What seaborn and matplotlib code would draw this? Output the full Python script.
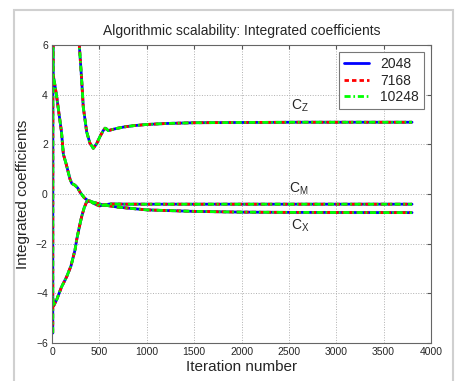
import matplotlib
matplotlib.use('Agg')
import matplotlib.pyplot as plt
import matplotlib.patches as mpatches
import seaborn as sns

# data (all three runs lie on top of each other)
runs = ['2048', '7168', '10248']
run_colors = ['#0000ff', '#ff0000', '#00ff00']
run_styles = ['-', (0, (1.6, 1.1)), (0, (2.2, 1.0, 0.6, 1.0))]

cz_iter = [8, 14, 100, 200, 288, 313, 330, 366, 400, 436, 470, 506, 540, 560, 575,
           595, 620, 682, 760, 858, 1000, 1210, 1500, 2000, 2600, 3800]
cz_val = [-5.6, 40, 25, 12, 6.0, 4.6, 3.5, 2.5, 2.05, 1.84, 2.02, 2.31, 2.55, 2.65, 2.62,
          2.55, 2.58, 2.64, 2.70, 2.75, 2.80, 2.84, 2.87, 2.88, 2.89, 2.89]

cm_iter = [8, 18, 50, 100, 155, 200, 243, 260, 290, 313, 340, 366, 400, 440, 500,
           540, 612, 800, 1500, 3800]
cm_val = [-4.2, -4.5, -4.25, -3.75, -3.33, -2.9, -2.25, -1.85, -1.3, -0.91, -0.55, -0.31,
          -0.28, -0.38, -0.48, -0.45, -0.40, -0.41, -0.41, -0.41]

cx_iter = [7, 12, 30, 50, 75, 100, 120, 150, 190, 210, 240, 270, 300, 340, 380, 470,
           540, 700, 1000, 1500, 2000, 2500, 3800]
cx_val = [8.0, 4.8, 4.4, 3.9, 3.2, 2.5, 1.6, 1.2, 0.6, 0.42, 0.36, 0.25, 0.05, -0.15,
          -0.27, -0.37, -0.44, -0.53, -0.64, -0.70, -0.73, -0.74, -0.75]

curves = [(cz_iter, cz_val), (cm_iter, cm_val), (cx_iter, cx_val)]

sns.set_style('white')
plt.rcParams['font.family'] = ['Liberation Sans', 'DejaVu Sans']
plt.rcParams['mathtext.fontset'] = 'custom'
plt.rcParams['mathtext.rm'] = 'Liberation Sans'

fig = plt.figure(figsize=(4.57, 3.81), dpi=100)
ax = fig.add_axes([0.1138, 0.0997, 0.8293, 0.7822])

for run, col, ls in zip(runs, run_colors, run_styles):
    for k, (xs, ys) in enumerate(curves):
        sns.lineplot(x=xs, y=ys, color=col, linestyle=ls, linewidth=2,
                     label=run if k == 0 else None, ax=ax, legend=False)

ax.set_xlim(0, 4000)
ax.set_ylim(-6, 6)
ax.set_xticks(range(0, 4001, 500))
ax.set_yticks(range(-6, 7, 2))
ax.grid(True, linestyle=':', color='#b0b0b0', linewidth=0.7)
ax.tick_params(direction='in', top=True, right=True, labelsize=7.5, length=3,
               color='#555555', pad=3)
for sp in ax.spines.values():
    sp.set_color('#666666')
    sp.set_linewidth(0.8)

ax.set_title('Algorithmic scalability: Integrated coefficients', fontsize=10, pad=7)
ax.set_xlabel('Iteration number', fontsize=11, labelpad=2)
ax.set_ylabel('Integrated coefficients', fontsize=11, labelpad=4)

ax.text(2520, 3.55, 'C$_\\mathregular{Z}$', fontsize=10, va='center', ha='left')
ax.text(2500, 0.2, 'C$_\\mathregular{M}$', fontsize=10, va='center', ha='left')
ax.text(2520, -1.3, 'C$_\\mathregular{X}$', fontsize=10, va='center', ha='left')

handles, labels = ax.get_legend_handles_labels()
leg = ax.legend(handles, labels, loc='upper right', fontsize=10, fancybox=False,
                framealpha=1, edgecolor='#777777', handlelength=1.8,
                borderaxespad=0.5, labelspacing=0.2, handletextpad=0.8,
                borderpad=0.35)
leg.get_frame().set_linewidth(0.8)

fig.patches.append(mpatches.Rectangle((14 / 457, -0.1), 439 / 457, 1.074,
                                      transform=fig.transFigure, fill=False,
                                      edgecolor='#d0d0d0', linewidth=1.5))

fig.savefig('out.png', dpi=100)
